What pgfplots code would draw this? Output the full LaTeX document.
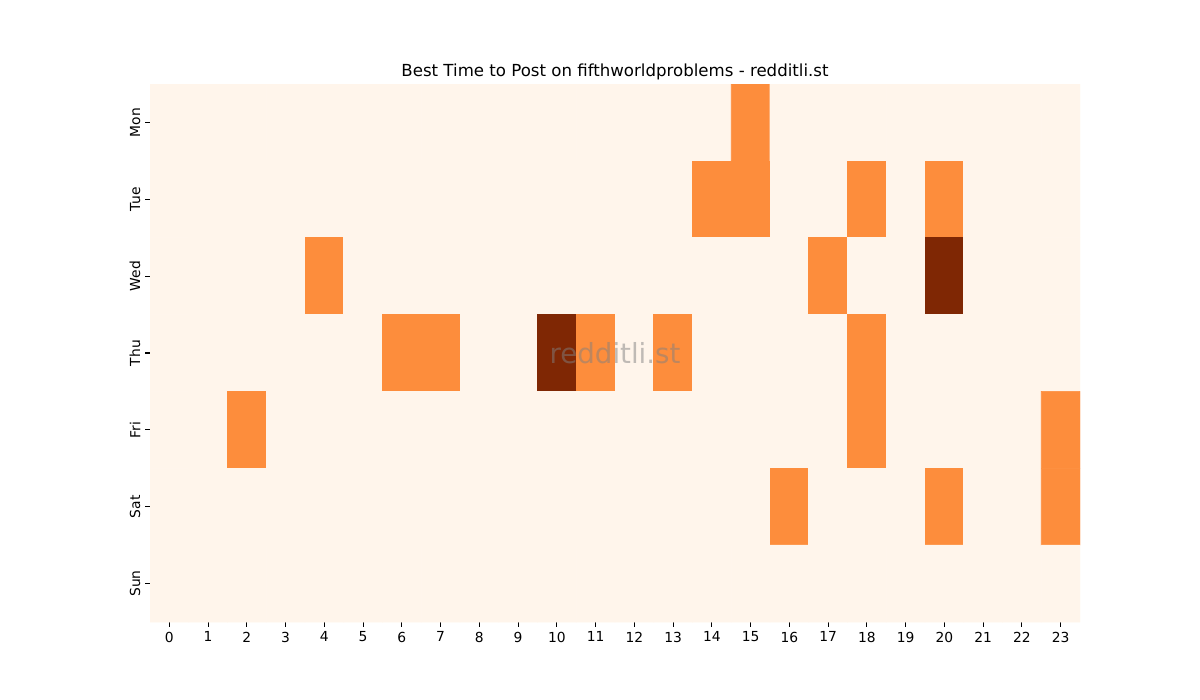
\documentclass[border=0pt]{standalone}
\usepackage{pgfplots}
\pgfplotsset{compat=1.18}
\usepackage{fontspec}
\setmainfont{DejaVu Sans}
\begin{document}
\begin{tikzpicture}
\useasboundingbox (0,0) rectangle (864bp,504bp);
\begin{axis}[
  at={(108bp,56.16bp)}, anchor=south west,
  scale only axis, width=669.6bp, height=387.36bp,
  xmin=-0.5, xmax=23.5, ymin=-0.5, ymax=6.5,
  y dir=reverse,
  axis line style={draw=none},
  xtick={0,...,23},
  ytick={0,...,6},
  xtick pos=bottom, ytick pos=left,
  yticklabels={Mon,Tue,Wed,Thu,Fri,Sat,Sun},
  yticklabel style={rotate=90, anchor=south, font=\fontsize{10}{12}\selectfont},
  xticklabel style={font=\fontsize{10}{12}\selectfont},
  tick align=outside,
  major tick length=3.5pt,
  tick style={black, line width=0.8pt},
  /pgf/number format/assume math mode=true,
  colormap={oranges}{rgb255=(255,245,235) rgb255=(253,141,60) rgb255=(127,39,4)},
  point meta min=0, point meta max=2,
  title={Best Time to Post on fifthworldproblems - redditli.st},
  title style={at={(0.5,1)}, anchor=base, yshift=-0.7bp, font=\fontsize{12}{14}\selectfont},
]
\addplot[matrix plot*, mesh/cols=24, mesh/rows=7, point meta=explicit, shader=flat corner] coordinates {
(0,0)[0] (1,0)[0] (2,0)[0] (3,0)[0] (4,0)[0] (5,0)[0] (6,0)[0] (7,0)[0] (8,0)[0] (9,0)[0] (10,0)[0] (11,0)[0] (12,0)[0] (13,0)[0] (14,0)[0] (15,0)[1] (16,0)[0] (17,0)[0] (18,0)[0] (19,0)[0] (20,0)[0] (21,0)[0] (22,0)[0] (23,0)[0]
(0,1)[0] (1,1)[0] (2,1)[0] (3,1)[0] (4,1)[0] (5,1)[0] (6,1)[0] (7,1)[0] (8,1)[0] (9,1)[0] (10,1)[0] (11,1)[0] (12,1)[0] (13,1)[0] (14,1)[1] (15,1)[1] (16,1)[0] (17,1)[0] (18,1)[1] (19,1)[0] (20,1)[1] (21,1)[0] (22,1)[0] (23,1)[0]
(0,2)[0] (1,2)[0] (2,2)[0] (3,2)[0] (4,2)[1] (5,2)[0] (6,2)[0] (7,2)[0] (8,2)[0] (9,2)[0] (10,2)[0] (11,2)[0] (12,2)[0] (13,2)[0] (14,2)[0] (15,2)[0] (16,2)[0] (17,2)[1] (18,2)[0] (19,2)[0] (20,2)[2] (21,2)[0] (22,2)[0] (23,2)[0]
(0,3)[0] (1,3)[0] (2,3)[0] (3,3)[0] (4,3)[0] (5,3)[0] (6,3)[1] (7,3)[1] (8,3)[0] (9,3)[0] (10,3)[2] (11,3)[1] (12,3)[0] (13,3)[1] (14,3)[0] (15,3)[0] (16,3)[0] (17,3)[0] (18,3)[1] (19,3)[0] (20,3)[0] (21,3)[0] (22,3)[0] (23,3)[0]
(0,4)[0] (1,4)[0] (2,4)[1] (3,4)[0] (4,4)[0] (5,4)[0] (6,4)[0] (7,4)[0] (8,4)[0] (9,4)[0] (10,4)[0] (11,4)[0] (12,4)[0] (13,4)[0] (14,4)[0] (15,4)[0] (16,4)[0] (17,4)[0] (18,4)[1] (19,4)[0] (20,4)[0] (21,4)[0] (22,4)[0] (23,4)[1]
(0,5)[0] (1,5)[0] (2,5)[0] (3,5)[0] (4,5)[0] (5,5)[0] (6,5)[0] (7,5)[0] (8,5)[0] (9,5)[0] (10,5)[0] (11,5)[0] (12,5)[0] (13,5)[0] (14,5)[0] (15,5)[0] (16,5)[1] (17,5)[0] (18,5)[0] (19,5)[0] (20,5)[1] (21,5)[0] (22,5)[0] (23,5)[1]
(0,6)[0] (1,6)[0] (2,6)[0] (3,6)[0] (4,6)[0] (5,6)[0] (6,6)[0] (7,6)[0] (8,6)[0] (9,6)[0] (10,6)[0] (11,6)[0] (12,6)[0] (13,6)[0] (14,6)[0] (15,6)[0] (16,6)[0] (17,6)[0] (18,6)[0] (19,6)[0] (20,6)[0] (21,6)[0] (22,6)[0] (23,6)[0]
};
\node[text=gray, opacity=0.5, font=\fontsize{20}{24}\selectfont, anchor=center] at (rel axis cs:0.5,0.5) {redditli.st};
\end{axis}
\end{tikzpicture}
\end{document}
